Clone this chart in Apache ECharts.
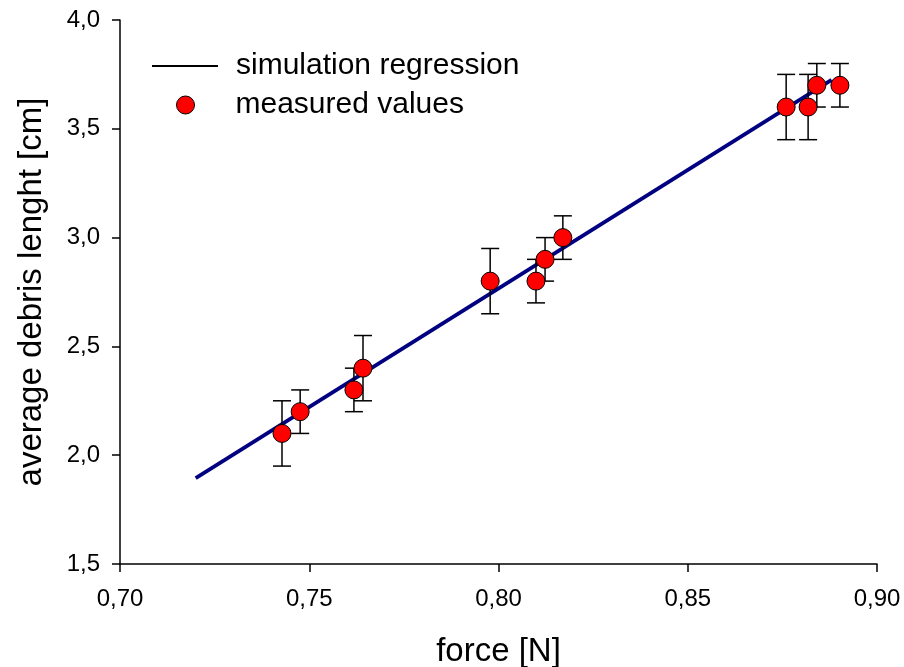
<!DOCTYPE html>
<html>
<head>
<meta charset="utf-8">
<script src="https://cdn.jsdelivr.net/npm/echarts@6/dist/echarts.min.js"></script>
<style>html,body{margin:0;padding:0;background:#fff;}#chart{width:904px;height:667px;}</style>
</head>
<body>
<div id="chart"></div>
<script>
// measured values
const forceN    = [0.7428, 0.7476, 0.7618, 0.7642, 0.7978, 0.8099, 0.8123, 0.8170, 0.8760, 0.8818, 0.8841, 0.8902];
const lengthCm  = [2.10, 2.20, 2.30, 2.40, 2.80, 2.80, 2.90, 3.00, 3.60, 3.60, 3.70, 3.70];
const errLow    = [1.95, 2.10, 2.20, 2.25, 2.65, 2.70, 2.80, 2.90, 3.45, 3.45, 3.60, 3.60];
const errHigh   = [2.25, 2.30, 2.40, 2.55, 2.95, 2.90, 3.00, 3.10, 3.75, 3.75, 3.80, 3.80];
// simulation regression line
const regX = [0.720, 0.888];
const regY = [1.895, 3.725];
// axis ticks
const xTicks = [0.70, 0.75, 0.80, 0.85, 0.90];
const yTicks = [1.5, 2.0, 2.5, 3.0, 3.5, 4.0];

const FONT = "'Liberation Sans', Arial, sans-serif";
const chart = echarts.init(document.getElementById('chart'));

const option = {
  animation: false,
  backgroundColor: '#fff',
  grid: { left: 120, right: 27, top: 20, bottom: 103, containLabel: false, outerBoundsMode: 'none' },
  legend: [
    {
      left: 152, top: 51, padding: 0, orient: 'vertical',
      itemWidth: 66, itemHeight: 2, icon: 'rect', selectedMode: false,
      data: [{ name: 'simulation regression', itemStyle: { color: '#000', borderWidth: 0 } }],
      textStyle: { fontFamily: FONT, fontSize: 30, color: '#000', lineHeight: 30, padding: [0, 0, 0, 13] }
    },
    {
      left: 176, top: 90, padding: 0, orient: 'vertical',
      itemWidth: 66, itemHeight: 18, icon: 'circle', selectedMode: false,
      data: [{ name: 'measured values', itemStyle: { color: '#ff0000', borderColor: '#000', borderWidth: 1 } }],
      textStyle: { fontFamily: FONT, fontSize: 30, color: '#000', lineHeight: 30, padding: [0, 0, 0, 12] }
    }
  ],
  xAxis: {
    type: 'value',
    min: xTicks[0], max: xTicks[xTicks.length - 1], interval: 0.05,
    splitLine: { show: false },
    axisLine: { show: true, onZero: false, lineStyle: { color: '#000', width: 1.5 } },
    axisTick: { show: true, inside: false, length: 8, lineStyle: { color: '#000', width: 1.5 } },
    axisLabel: { fontFamily: FONT, fontSize: 24, color: '#000', margin: 23,
      formatter: v => v.toFixed(2).replace('.', ',') },
    name: 'force [N]', nameLocation: 'middle', nameGap: 71,
    nameTextStyle: { fontFamily: FONT, fontSize: 33, color: '#000' }
  },
  yAxis: {
    type: 'value',
    min: yTicks[0], max: yTicks[yTicks.length - 1], interval: 0.5,
    splitLine: { show: false },
    axisLine: { show: true, onZero: false, lineStyle: { color: '#000', width: 1.5 } },
    axisTick: { show: true, inside: false, length: 8, lineStyle: { color: '#000', width: 1.5 } },
    axisLabel: { fontFamily: FONT, fontSize: 24, color: '#000', margin: 20,
      formatter: v => v.toFixed(1).replace('.', ',') },
    name: 'average debris lenght [cm]', nameLocation: 'middle', nameGap: 72, nameRotate: 90,
    nameTextStyle: { fontFamily: FONT, fontSize: 33, color: '#000' }
  },
  series: [
    {
      name: 'simulation regression',
      type: 'line',
      data: regX.map((x, i) => [x, regY[i]]),
      showSymbol: false, symbol: 'none',
      lineStyle: { color: '#000080', width: 3.8 },
      itemStyle: { color: '#000' },
      z: 2
    },
    {
      name: 'errors',
      type: 'custom',
      data: forceN.map((x, i) => [x, errLow[i], errHigh[i]]),
      encode: { x: 0, y: [1, 2] },
      renderItem: function (params, api) {
        const x = api.value(0);
        const lo = api.coord([x, api.value(1)]);
        const hi = api.coord([x, api.value(2)]);
        const w = 9;
        const style = { stroke: '#000', lineWidth: 1.5 };
        return {
          type: 'group',
          children: [
            { type: 'line', shape: { x1: lo[0], y1: lo[1], x2: hi[0], y2: hi[1] }, style },
            { type: 'line', shape: { x1: lo[0] - w, y1: lo[1], x2: lo[0] + w, y2: lo[1] }, style },
            { type: 'line', shape: { x1: hi[0] - w, y1: hi[1], x2: hi[0] + w, y2: hi[1] }, style }
          ]
        };
      },
      z: 3
    },
    {
      name: 'measured values',
      type: 'scatter',
      data: forceN.map((x, i) => [x, lengthCm[i]]),
      symbol: 'circle', symbolSize: 18,
      itemStyle: { color: '#ff0000', borderColor: '#000', borderWidth: 1, opacity: 1 },
      z: 4
    }
  ]
};
chart.setOption(option);
</script>
</body>
</html>
